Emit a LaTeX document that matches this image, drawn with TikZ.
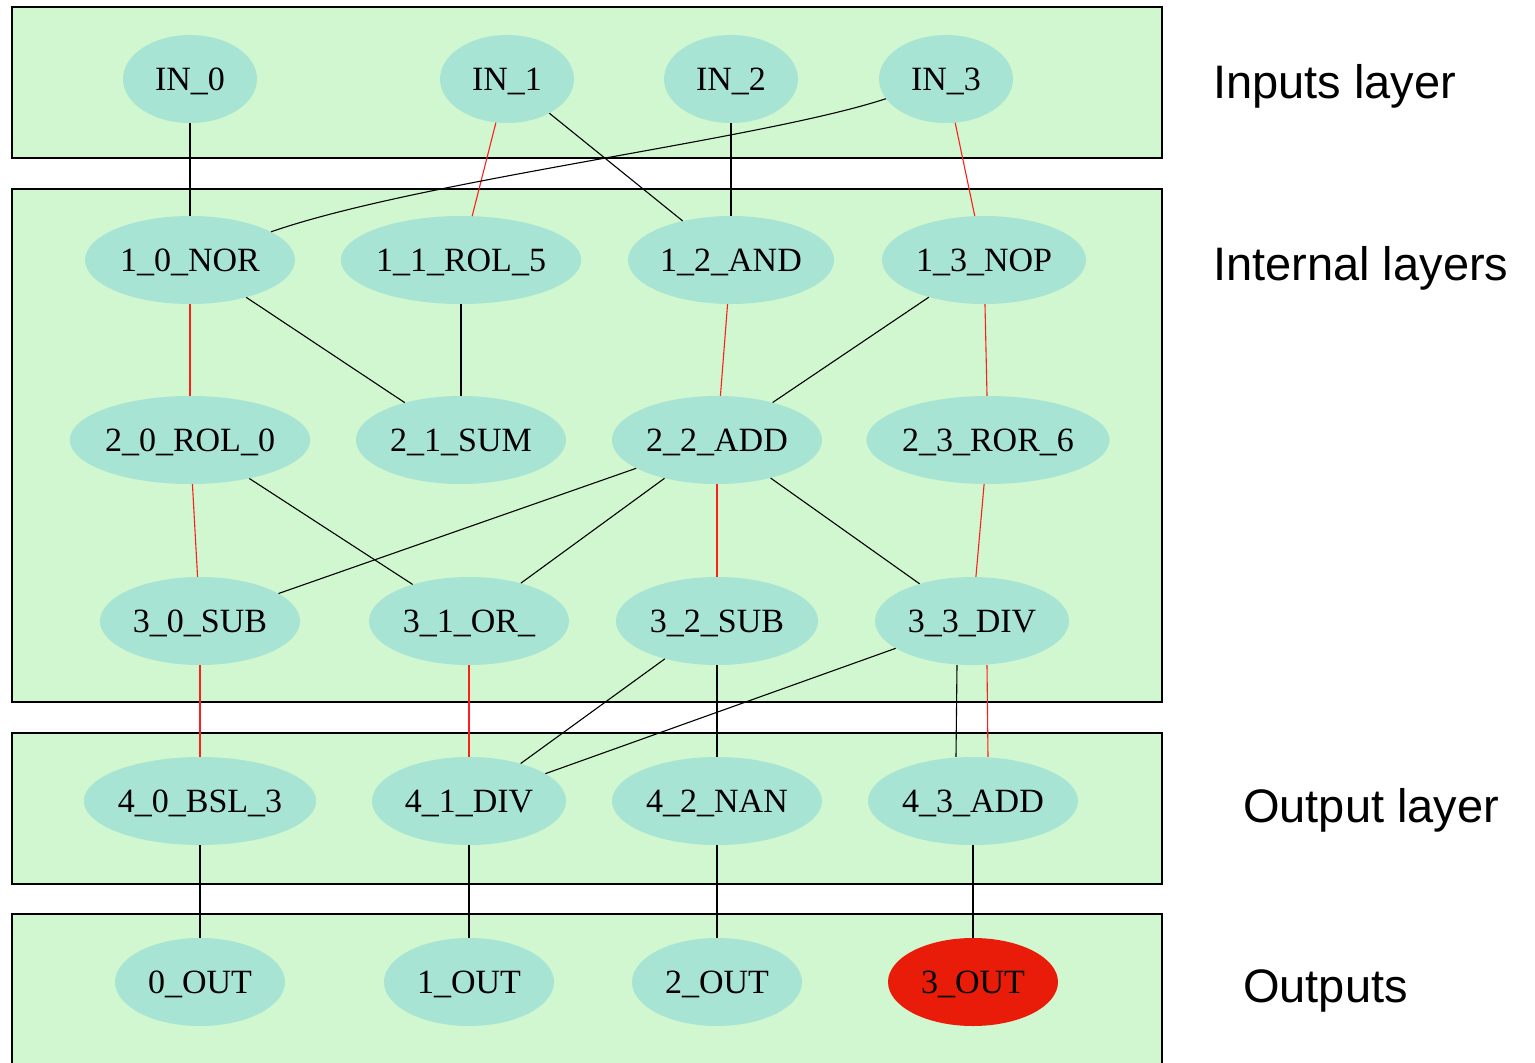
\documentclass[tikz,border=0pt]{standalone}
\usepackage{fontspec}
\setmainfont{Liberation Serif}
\newfontfamily\labelfont{Liberation Sans}
\usetikzlibrary{shapes.geometric}
\definecolor{layerbg}{RGB}{208,247,208}
\definecolor{opnode}{RGB}{168,228,212}
\definecolor{outred}{RGB}{232,28,8}
\definecolor{edgered}{RGB}{255,30,30}
\begin{document}
\begin{tikzpicture}[x=1pt,y=-1pt,
  layer/.style={fill=layerbg,draw=black,line width=1.8pt},
  op/.style={ellipse,fill=opnode,inner sep=0pt,minimum height=88pt,
             text height=22.5pt,text depth=0pt,font=\fontsize{34}{34}\selectfont},
  wire/.style={black,line width=1.1pt},
  hot/.style={edgered,line width=1.1pt},
  side/.style={anchor=base west,inner sep=0pt,font=\labelfont\fontsize{47}{47}\selectfont}]

\useasboundingbox (0,0) rectangle (1535,1063);

% layer bands
\draw[layer] (12,7) rectangle (1162,158);
\draw[layer] (12,189) rectangle (1162,702);
\draw[layer] (12,733) rectangle (1162,884);
\fill[layerbg] (12,914) rectangle (1162,1063);
\draw[black,line width=1.8pt] (12,1063) -- (12,914) -- (1162,914) -- (1162,1063);

% inputs
\node[op,minimum width=134pt] (in0) at (190,79) {IN\_0};
\node[op,minimum width=134pt] (in1) at (507,79) {IN\_1};
\node[op,minimum width=134pt] (in2) at (731,79) {IN\_2};
\node[op,minimum width=134pt] (in3) at (946,79) {IN\_3};

% internal layer 1
\node[op,minimum width=210pt] (n10) at (190,260) {1\_0\_NOR};
\node[op,minimum width=240pt] (n11) at (461,260) {1\_1\_ROL\_5};
\node[op,minimum width=206pt] (n12) at (731,260) {1\_2\_AND};
\node[op,minimum width=204pt] (n13) at (984,260) {1\_3\_NOP};

% internal layer 2
\node[op,minimum width=238pt] (n20) at (190,440) {2\_0\_ROL\_0};
\node[op,minimum width=210pt] (n21) at (461,440) {2\_1\_SUM};
\node[op,minimum width=210pt] (n22) at (717,440) {2\_2\_ADD};
\node[op,minimum width=240pt] (n23) at (988,440) {2\_3\_ROR\_6};

% internal layer 3
\node[op,minimum width=200pt] (n30) at (200,621) {3\_0\_SUB};
\node[op,minimum width=200pt] (n31) at (469,621) {3\_1\_OR\_};
\node[op,minimum width=202pt] (n32) at (717,621) {3\_2\_SUB};
\node[op,minimum width=194pt] (n33) at (972,621) {3\_3\_DIV};

% output layer
\node[op,minimum width=230pt] (n40) at (200,801) {4\_0\_BSL\_3};
\node[op,minimum width=194pt] (n41) at (469,801) {4\_1\_DIV};
\node[op,minimum width=210pt] (n42) at (717,801) {4\_2\_NAN};
\node[op,minimum width=210pt] (n43) at (973,801) {4\_3\_ADD};

% outputs
\node[op,minimum width=170pt] (o0) at (200,982) {0\_OUT};
\node[op,minimum width=170pt] (o1) at (469,982) {1\_OUT};
\node[op,minimum width=170pt] (o2) at (717,982) {2\_OUT};
\node[op,minimum width=170pt,fill=outred] (o3) at (973,982) {3\_OUT};

% connections
\draw[wire] (in0) -- (n10);
\draw[hot]  (in1) -- (n11);
\draw[wire] (in1) -- (n12);
\draw[wire] (in2) -- (n12);
\draw[wire] (in3) .. controls (760,140) and (420,180) .. (n10);
\draw[hot]  (in3) -- (n13);

\draw[hot]  (n10) -- (n20);
\draw[wire] (n10) -- (n21);
\draw[wire] (n11) -- (n21);
\draw[hot]  (n12) -- (n22);
\draw[wire] (n13) -- (n22);
\draw[hot]  (n13) -- (n23);

\draw[hot]  (n20) -- (n30);
\draw[wire] (n20) -- (n31);
\draw[wire] (n22) -- (n30);
\draw[wire] (n22) -- (n31);
\draw[hot]  (n22) -- (n32);
\draw[wire] (n22) -- (n33);
\draw[hot]  (n23) -- (n33);

\draw[hot]  (n30) -- (n40);
\draw[hot]  (n31) -- (n41);
\draw[wire] (n32) -- (n41);
\draw[wire] (n33) -- (n41);
\draw[wire] (n32) -- (n42);
\draw[wire] ([xshift=-15pt]n33.south) -- ([xshift=-17pt]n43.north);
\draw[hot]  ([xshift=15pt]n33.south) -- ([xshift=15pt]n43.north);

\draw[wire] (n40) -- (o0);
\draw[wire] (n41) -- (o1);
\draw[wire] (n42) -- (o2);
\draw[wire] (n43) -- (o3);

% layer captions
\node[side] (capin)  at (1213,98)   {Inputs layer};
\node[side] (capint) at (1213,280)  {Internal layers};
\node[side] (capout) at (1243,822)  {Output layer};
\node[side] (capres) at (1243,1002) {Outputs};
\end{tikzpicture}
\end{document}
